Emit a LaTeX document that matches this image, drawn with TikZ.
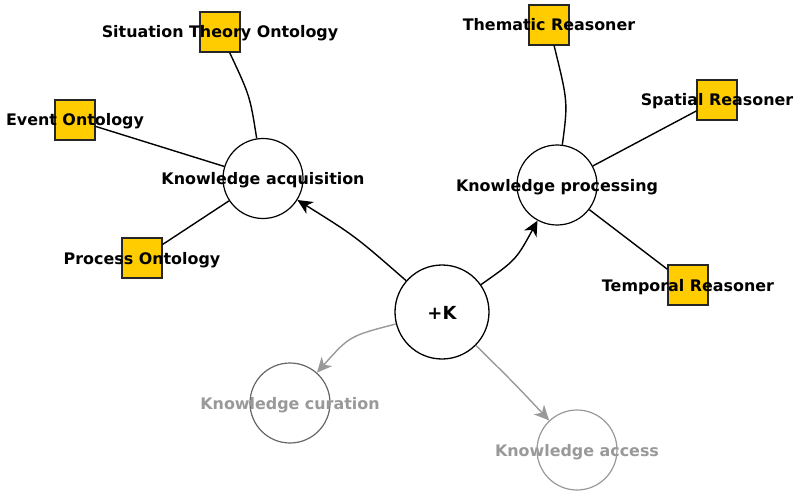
\documentclass[tikz,border=0pt]{standalone}
\usepackage{fontspec}
\setmainfont{DejaVu Sans}
\usetikzlibrary{arrows.meta}
\definecolor{leafgold}{HTML}{FFCC00}
\definecolor{softgrey}{HTML}{999999}
\definecolor{midgrey}{HTML}{666666}

\begin{document}
\begin{tikzpicture}[x=1pt,y=-1pt,
  hub/.style={circle, draw=black, fill=white, line width=1.3pt, minimum size=94pt, inner sep=0pt},
  topic/.style={circle, draw=black, fill=white, line width=1.2pt, minimum size=80pt, inner sep=0pt},
  leaf/.style={rectangle, draw=black!85, fill=leafgold, line width=1.2pt, minimum size=40pt, inner sep=0pt},
  lbl/.style={anchor=base, inner sep=0pt, font=\fontsize{15.9}{18}\selectfont\bfseries},
  link/.style={line width=1.4pt},
  tip/.style={-{Stealth[length=15pt,width=14pt,inset=4.5pt]}},
]
\useasboundingbox (0,0) rectangle (798,492);

% hub and topic circles
\node[hub] (k) at (442,312) {};
\node[topic] (acq) at (263,178.5) {};
\node[topic] (proc) at (557,185) {};
\node[topic, draw=midgrey] (cur) at (290,403) {};
\node[topic, draw=softgrey] (acc) at (577,450) {};

% leaf squares
\node[leaf] (sto) at (220,32) {};
\node[leaf] (evo) at (75,120) {};
\node[leaf] (pro) at (142,258) {};
\node[leaf] (thr) at (549,25) {};
\node[leaf] (spr) at (717,100) {};
\node[leaf] (tmr) at (688,285) {};

% control points of the curved links
\coordinate (cacq) at (355,236);
\coordinate (cproc) at (516,260);
\coordinate (ccur) at (349.5,336);
\coordinate (cacc) at (513,382);
\coordinate (csto) at (250,96);
\coordinate (cthr) at (568,102);

% links from the hub
\draw[link,tip] (k) .. controls (cacq) .. (acq);
\draw[link,tip] (k) .. controls (cproc) .. (proc);
\draw[link,tip,softgrey] (k) .. controls (ccur) .. (cur);
\draw[link,tip,softgrey] (k) .. controls (cacc) .. (acc);

% links to the leaves
\draw[link] (acq) .. controls (csto) .. (sto);
\draw[link] (acq) -- (evo);
\draw[link] (acq) -- (pro);
\draw[link] (proc) .. controls (cthr) .. (thr);
\draw[link] (proc) -- (spr);
\draw[link] (proc) -- (tmr);

% labels
\node[lbl] (tk) at (442,319) {\fontsize{18}{20}\selectfont +K};
\node[lbl] (tacq) at (263,185) {Knowledge acquisition};
\node[lbl] (tproc) at (557,191.5) {Knowledge processing};
\node[lbl, text=softgrey] (tcur) at (290,409.5) {Knowledge curation};
\node[lbl, text=softgrey] (tacc) at (577,456.5) {Knowledge access};
\node[lbl] (tsto) at (220,38) {Situation Theory Ontology};
\node[lbl] (tevo) at (75,126) {Event Ontology};
\node[lbl] (tpro) at (142,264.5) {Process Ontology};
\node[lbl] (tthr) at (549,31) {Thematic Reasoner};
\node[lbl] (tspr) at (717,106) {Spatial Reasoner};
\node[lbl] (ttmr) at (688,291.5) {Temporal Reasoner};
\end{tikzpicture}
\end{document}
